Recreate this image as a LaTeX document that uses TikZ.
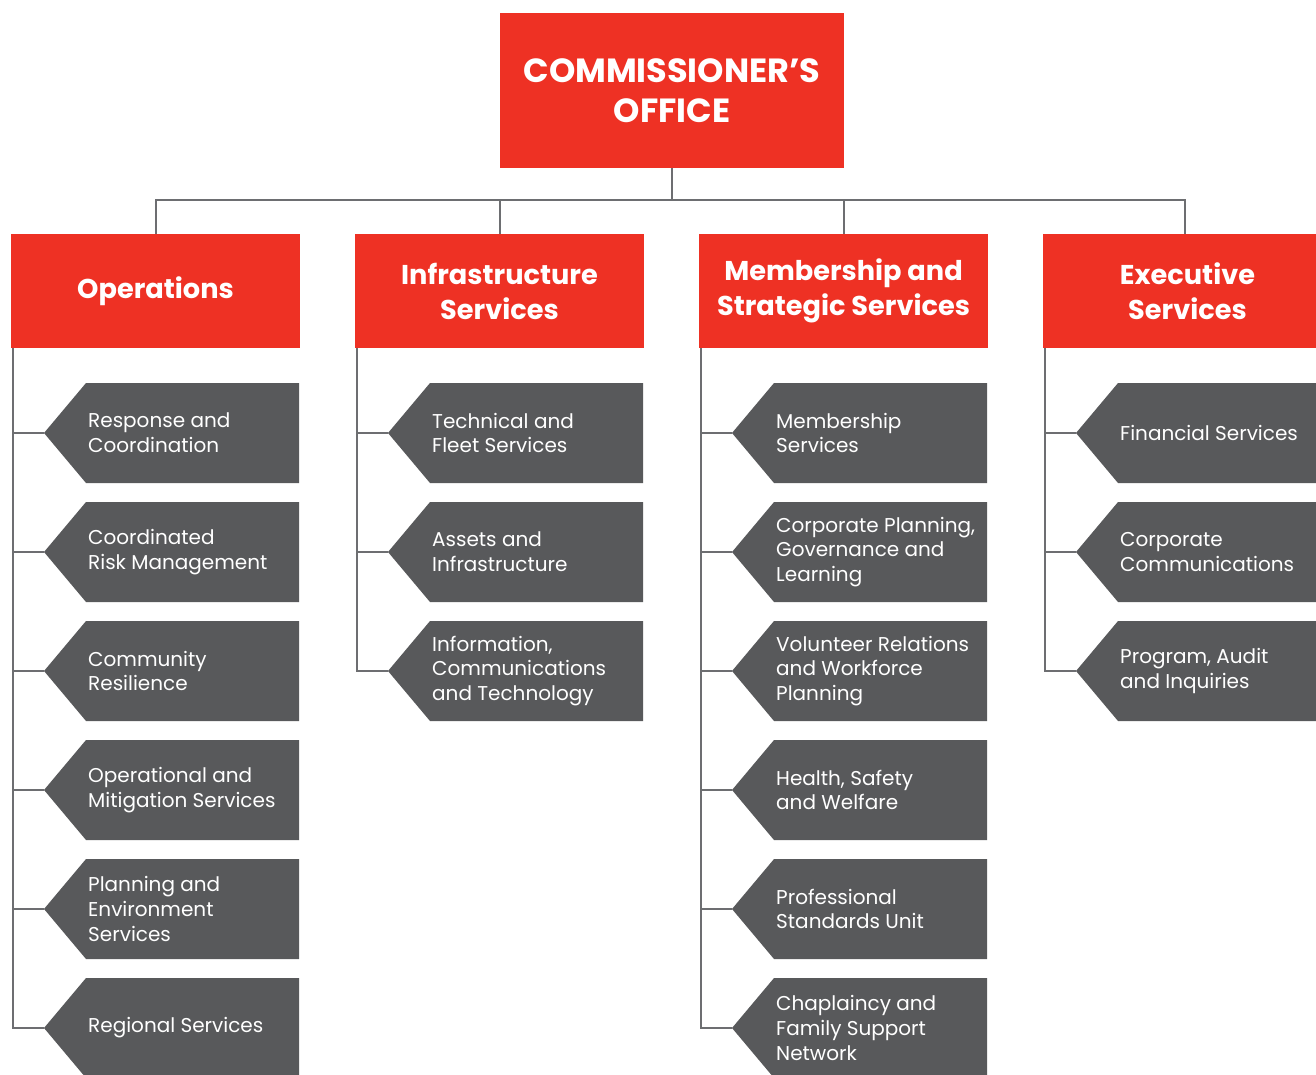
\documentclass[tikz,border=0pt]{standalone}
\usepackage{fontspec}
\setmainfont{Poppins}
\definecolor{redc}{HTML}{EE3124}
\definecolor{grayc}{HTML}{58595B}
\definecolor{linec}{HTML}{6D6E71}
\newcommand\childbox[4]{%
  \fill[grayc] (#2,#3) -- (#2+42,#3-50) -- (#2+255,#3-50) -- (#2+255,#3+50) -- (#2+42,#3+50) -- cycle;
  \coordinate (#1) at (#2,#3);
  \node[childtext] (#1t) at (#2+44,#3) {#4};
}
\begin{document}
\begin{tikzpicture}[x=1pt,y=-1pt,
  conn/.style={draw=linec,line width=2pt},
  headbox/.style={fill=redc,text=white,font=\fontsize{27.2}{35}\selectfont\bfseries,align=center,inner sep=0pt,minimum width=289pt,minimum height=114pt},
  topbox/.style={fill=redc,text=white,font=\fontsize{33.5}{40}\selectfont\bfseries,align=center,inner sep=0pt,minimum width=344pt,minimum height=155pt},
  childtext/.style={anchor=west,text=white,font=\fontsize{20}{24.8}\selectfont,align=left,inner sep=0pt}]
\useasboundingbox (0,0) rectangle (1316,1074);
\clip (0,0) rectangle (1316,1074);
\node[topbox] (co) at (672,90.5) {COMMISSIONER’S\\OFFICE};
\node[headbox] (h1) at (155.5,291) {Operations};
\node[headbox] (h2) at (499.5,291) {Infrastructure\\Services};
\node[headbox] (h3) at (843.5,291) {Membership and\\Strategic Services};
\node[headbox] (h4) at (1187.5,291) {Executive\\Services};
\coordinate (bus) at (672,200);
\foreach \h in {h1,h2,h3} \draw[conn] (co.south) -- (bus) -| (\h.north);
\draw[conn] (bus) -| ([xshift=-2.5pt]h4.north);
% Operations
\childbox{a1}{44}{433}{Response and\\Coordination}
\childbox{a2}{44}{552}{Coordinated\\Risk Management}
\childbox{a3}{44}{671}{Community\\Resilience}
\childbox{a4}{44}{790}{Operational and\\Mitigation Services}
\childbox{a5}{44}{909}{Planning and\\Environment\\Services}
\childbox{a6}{44}{1028}{Regional Services}
% Infrastructure
\childbox{b1}{388}{433}{Technical and\\Fleet Services}
\childbox{b2}{388}{552}{Assets and\\Infrastructure}
\childbox{b3}{388}{671}{Information,\\Communications\\and Technology}
% Membership
\childbox{c1}{732}{433}{Membership\\Services}
\childbox{c2}{732}{552}{Corporate Planning,\\Governance and\\Learning}
\childbox{c3}{732}{671}{Volunteer Relations\\and Workforce\\Planning}
\childbox{c4}{732}{790}{Health, Safety\\and Welfare}
\childbox{c5}{732}{909}{Professional\\Standards Unit}
\childbox{c6}{732}{1028}{Chaplaincy and\\Family Support\\Network}
% Executive
\childbox{d1}{1076}{433}{Financial Services}
\childbox{d2}{1076}{552}{Corporate\\Communications}
\childbox{d3}{1076}{671}{Program, Audit\\and Inquiries}
% spines
\coordinate (s1) at ([xshift=2pt]h1.south west);
\coordinate (s2) at ([xshift=2pt]h2.south west);
\coordinate (s3) at ([xshift=2pt]h3.south west);
\coordinate (s4) at ([xshift=2pt]h4.south west);
\draw[conn] (s1) |- (a6);
\foreach \c in {a1,a2,a3,a4,a5} \draw[conn] (\c -| s1) -- (\c);
\draw[conn] (s2) |- (b3);
\foreach \c in {b1,b2} \draw[conn] (\c -| s2) -- (\c);
\draw[conn] (s3) |- (c6);
\foreach \c in {c1,c2,c3,c4,c5} \draw[conn] (\c -| s3) -- (\c);
\draw[conn] (s4) |- (d3);
\foreach \c in {d1,d2} \draw[conn] (\c -| s4) -- (\c);
\end{tikzpicture}
\end{document}
